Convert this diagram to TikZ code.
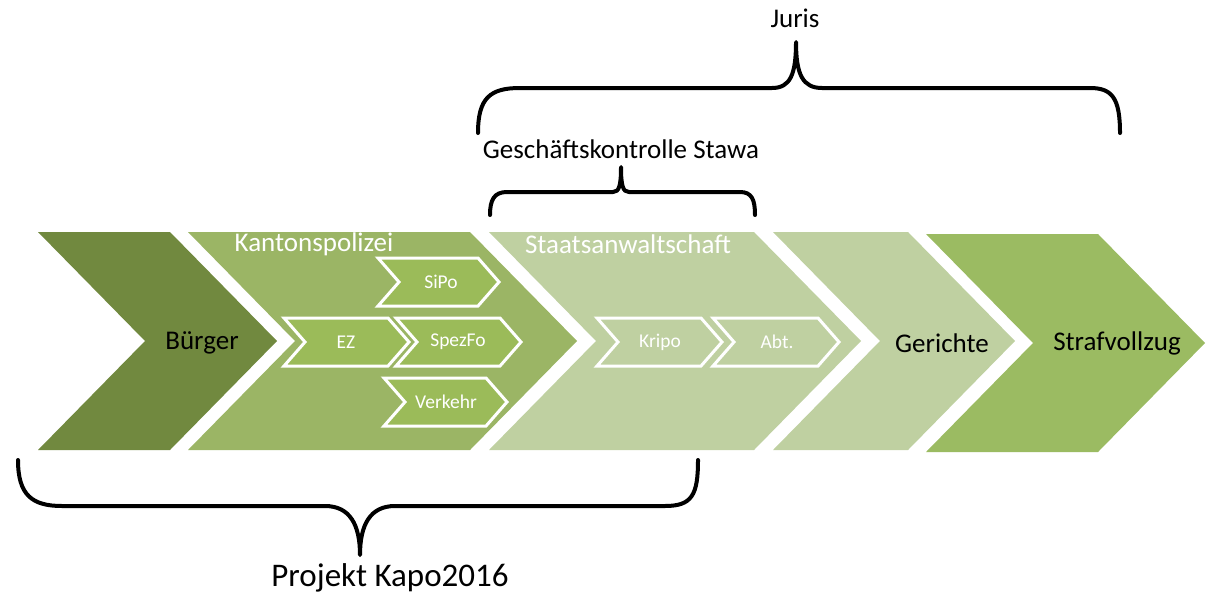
\documentclass[tikz,border=0pt]{standalone}
\usepackage{fontspec}
\setmainfont{Carlito}
\definecolor{dkgreen}{HTML}{71893F}
\definecolor{mdgreen}{HTML}{9BB565}
\definecolor{ltgreen}{HTML}{BFD0A1}
\definecolor{sfgreen}{HTML}{9BBB62}
\definecolor{smgreen}{HTML}{9BBB59}
\def\mychev#1#2#3#4#5{(#1,#2) -- ++(#3,0) -- ++(#5,#4/2) -- ++(-#5,#4/2) -- ++(-#3,0) -- ++(#5,-#4/2) -- cycle}
\begin{document}
\begin{tikzpicture}[x=1pt,y=-1pt,
  big/.style={font=\fontsize{27}{31}\selectfont},
  small/.style={font=\fontsize{19.5}{22}\selectfont, text=white},
  box/.style={draw=white, line width=3pt, line join=miter},
  brace/.style={draw=black, line width=4pt, line cap=round, line join=round}]
\useasboundingbox (0,0) rectangle (1209,597);
% big chevrons
\fill[dkgreen] \mychev{38}{232}{132}{218}{107};
\fill[mdgreen] \mychev{188}{232}{282}{218}{107};
\fill[ltgreen] \mychev{489}{232}{265}{218}{107};
\fill[ltgreen] \mychev{773}{232}{135}{218}{107};
\fill[sfgreen] \mychev{926}{234}{172}{218}{107};
\node[big] (buerger) at (202,343) {Bürger};
\node[big, text=white] (kapo) at (314,244) {Kantonspolizei};
\node[big, text=white] (stawa) at (628,244) {Staatsanwaltschaft};
\node[big] (gerichte) at (942,343) {Gerichte};
\node[big] (straf) at (1117,343) {Strafvollzug};
% small chevrons
\path[box, fill=smgreen] \mychev{378}{258}{100}{48}{21};
\path[box, fill=smgreen] \mychev{284}{318}{104}{48}{21};
\path[box, fill=smgreen] \mychev{396}{318}{104}{48}{21};
\path[box, fill=smgreen] \mychev{384}{378}{102}{48}{21};
\path[box, fill=ltgreen] \mychev{597}{318}{104}{48}{21};
\path[box, fill=ltgreen] \mychev{713}{318}{105}{48}{21};
\node[small] (sipo) at (441,282) {SiPo};
\node[small] (ez) at (346,342) {EZ};
\node[small] (spezfo) at (458,342) {SpezFo};
\node[small] (verkehr) at (446,402) {Verkehr};
\node[small] (kripo) at (660,342) {Kripo};
\node[small] (abt) at (777,342) {Abt.};
% braces
\draw[brace] (478,133) .. controls (478,98) and (490,88) .. (520,88) -- (772,88)
  .. controls (790,88) and (796,75) .. (796,42)
  .. controls (796,75) and (803,88) .. (822,88) -- (1090,88)
  .. controls (1112,88) and (1120,98) .. (1120,133);
\node[big] (juris) at (795,18) {Juris};
\draw[brace] (490,215) .. controls (490,200) and (494,192) .. (507,192) -- (613,192)
  .. controls (619,192) and (621,186) .. (621,167)
  .. controls (621,186) and (623,192) .. (629,192) -- (740,192)
  .. controls (752,192) and (755,200) .. (755,215);
\node[big] (gk) at (621,149) {Geschäftskontrolle Stawa};
\draw[brace] (18,460) .. controls (18,495) and (32,506) .. (62,506) -- (325,506)
  .. controls (350,506) and (360,525) .. (360,555)
  .. controls (360,525) and (370,506) .. (395,506) -- (665,506)
  .. controls (692,506) and (698,495) .. (698,460);
\node[font=\fontsize{33}{38}\selectfont] (kapo2016) at (390,578) {Projekt Kapo2016};
\end{tikzpicture}
\end{document}
